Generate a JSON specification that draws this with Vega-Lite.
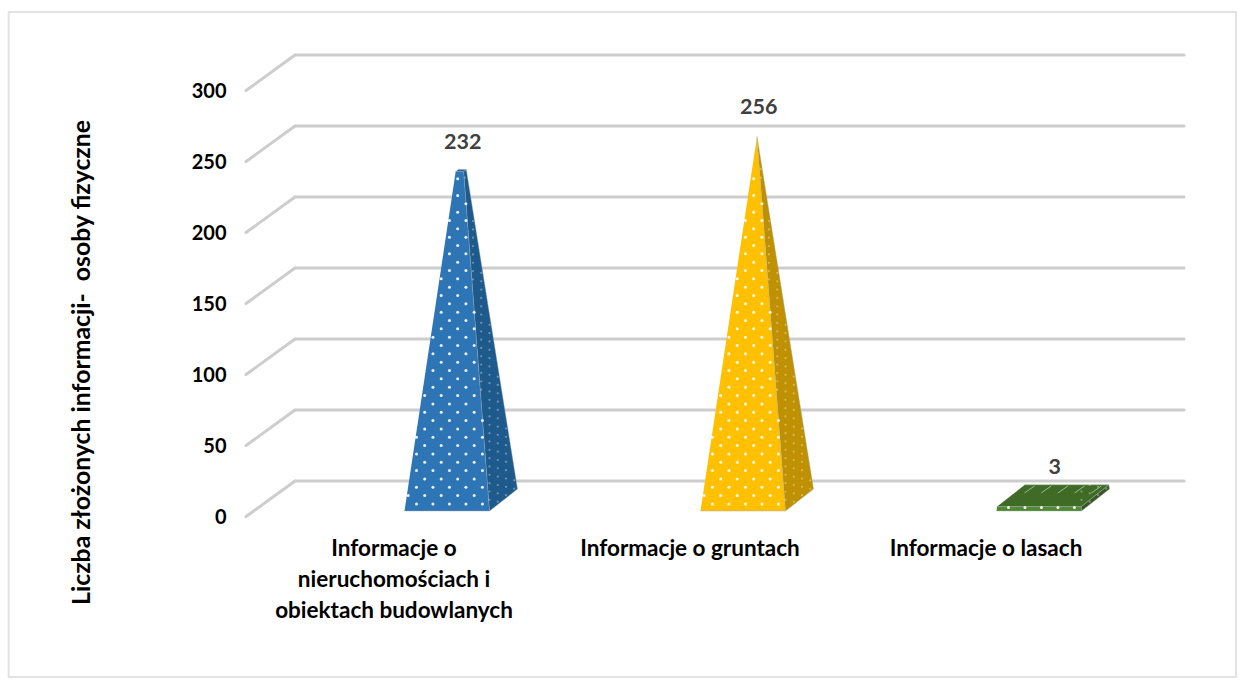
{
"$schema":"https://vega.github.io/schema/vega-lite/v6.json",
"width":1244,"height":687,"padding":0,
"autosize":{"type":"fit","contains":"padding"},
"background":"white",
"config":{"view":{"stroke":null},"font":"Lato"},
"data":{"values":[
{"kategoria":"Informacje o\nnieruchomościach i\nobiektach budowlanych","wartosc":232},
{"kategoria":"Informacje o gruntach","wartosc":256},
{"kategoria":"Informacje o lasach","wartosc":3}
]},
"transform":[
{"window":[{"op":"row_number","as":"nr"}]},
{"calculate":"datum.nr+0.179","as":"cx"},
{"calculate":"datum.cx-0.1436","as":"fl"},
{"calculate":"datum.cx+0.1436","as":"fr"},
{"calculate":"datum.fl+0.0946","as":"bl"},
{"calculate":"datum.fr+0.0946","as":"br"},
{"calculate":"datum.cx+0.0473","as":"ax"},
{"calculate":"datum.wartosc/256","as":"t"},
{"calculate":"datum.fl+datum.t*(datum.ax-datum.fl)","as":"fla"},
{"calculate":"datum.fr+datum.t*(datum.ax-datum.fr)","as":"fra"},
{"calculate":"datum.bl+datum.t*(datum.ax-datum.bl)","as":"bla"},
{"calculate":"datum.br+datum.t*(datum.ax-datum.br)","as":"bra"},
{"calculate":"datum.t*263.75","as":"vf"},
{"calculate":"15.5+datum.t*248.25","as":"vb"}
],
"encoding":{
"x":{"field":"x","type":"quantitative","axis":null,"scale":{"domain":[-0.3311,3.8716],"nice":false,"zero":false}},
"y":{"field":"y","type":"quantitative","scale":{"domain":[-123.94,359.86],"nice":false,"zero":false},
"axis":{"title":"Liczba złożonych informacji-\u00a0\u00a0osoby fizyczne","values":[0,50,100,150,200,250,300],"grid":false,"domain":false,"ticks":false,"offset":-226,"labelPadding":0,"labelOffset":6,"labelFont":"Lato","labelFontSize":20,"labelFontWeight":"bold","labelColor":"#000000","titleFont":"Lato","titleFontSize":24.8,"titleFontWeight":"bold","titleColor":"#000000","titleAngle":-90,"titleX":-144,"titleY":362,"titleAlign":"center","titleBaseline":"middle"}}
},
"layer":[
{"data":{"values":[{"a":1}]},
"transform":[{"calculate":"-0.3017","as":"x"},{"calculate":"3.845","as":"x2"},{"calculate":"351.4","as":"y"},{"calculate":"-116.9","as":"y2"}],
"mark":{"type":"rect","fill":"transparent","stroke":"#e2e2e2","strokeWidth":2},
"encoding":{"x2":{"field":"x2"},"y2":{"field":"y2"}}},
{"data":{"values":[{"w":0},{"w":50},{"w":100},{"w":150},{"w":200},{"w":250},{"w":300}]},
"transform":[{"calculate":"0.5","as":"x"},{"calculate":"0.6655","as":"x2"},{"calculate":"datum.w-3.9","as":"y"},{"calculate":"datum.w+21.1","as":"y2"}],
"mark":{"type":"rule","stroke":"#cdcdcd","strokeWidth":3,"strokeCap":"round"},
"encoding":{"x2":{"field":"x2"},"y2":{"field":"y2"}}},
{"data":{"values":[{"w":0},{"w":50},{"w":100},{"w":150},{"w":200},{"w":250},{"w":300}]},
"transform":[{"calculate":"0.6655","as":"x"},{"calculate":"3.669","as":"x2"},{"calculate":"datum.w+21.1","as":"y"}],
"mark":{"type":"rule","stroke":"#cdcdcd","strokeWidth":3,"strokeCap":"round"},
"encoding":{"x2":{"field":"x2"}}},
{"transform":[
{"calculate":"['b','b','b','b','g','g','g','g','p','p','p','p']","as":"twarz"},
{"calculate":"[datum.fr,datum.br,datum.bra,datum.fra,datum.fla,datum.fra,datum.bra,datum.bla,datum.fl,datum.fr,datum.fra,datum.fla]","as":"xs"},
{"calculate":"[0,15.5,datum.vb,datum.vf,datum.vf,datum.vf,datum.vb,datum.vb,0,0,datum.vf,datum.vf]","as":"ys"},
{"calculate":"[0,1,2,3,4,5,6,7,8,9,10,11]","as":"i"},
{"flatten":["twarz","xs","ys","i"],"as":["twarz","x","y","i"]},
{"calculate":"datum.nr+datum.twarz","as":"kolor"}
],
"mark":{"type":"line","stroke":"#9aa5ad","strokeWidth":0.6,"strokeOpacity":0.7},
"encoding":{
"fill":{"field":"kolor","type":"nominal","legend":null,"scale":{"domain":["1b","1g","1p","2b","2g","2p","3b","3g","3p"],"range":["#1f5a8c","#2a6296","#2e75b6","#bf9000","#d6a200","#ffc000","#385723","#3f6b27","#4f8a30"]}},
"detail":{"field":"kolor"},
"order":{"field":"i","type":"quantitative"}}},
{"transform":[
{"calculate":"sequence(0,46)","as":"k"},{"flatten":["k"]},
{"calculate":"sequence(-1,6)","as":"c"},{"flatten":["c"]},
{"calculate":"(datum.wartosc<10?2.5:5)+datum.k*5.87","as":"y"},
{"calculate":"datum.fl+0.0405+datum.c*0.0557-(datum.k%2)*0.0279","as":"x"},
{"filter":"datum.y<=datum.vf && datum.x>=datum.fl+datum.y/263.75*(datum.ax-datum.fl)+0.002 && datum.x<=datum.fr+datum.y/263.75*(datum.ax-datum.fr)"}
],
"mark":{"type":"circle","size":9,"fill":"#ffffff","opacity":0.9}},
{"transform":[
{"calculate":"sequence(-4,46)","as":"k"},{"flatten":["k"]},
{"calculate":"sequence(-8,5)","as":"c"},{"flatten":["c"]},
{"calculate":"datum.fr+datum.c*0.0279","as":"x"},
{"calculate":"2+datum.k*5.87+datum.c*4.57","as":"y"},
{"filter":"datum.y<=datum.vb && datum.y>=(datum.x-datum.fr)/0.0946*15.5+1.5 && datum.x>=datum.fr+datum.y/263.75*(datum.ax-datum.fr)+0.002 && datum.x<=datum.br+(datum.y-15.5)/248.25*(datum.ax-datum.br)-0.002"}
],
"mark":{"type":"circle","size":5,"fill":"#ffffff","opacity":0.35}},
{"transform":[
{"filter":"datum.wartosc<10"},
{"calculate":"[0,1,2,3,4]","as":"c"},{"flatten":["c"]},
{"calculate":"datum.fl+0.0946+datum.c*0.0564","as":"x"},
{"calculate":"datum.x+0.0338","as":"x2"},
{"calculate":"12.7","as":"y"},
{"calculate":"17.6","as":"y2"}
],
"mark":{"type":"rule","stroke":"#b5cba8","strokeWidth":1,"opacity":0.8},
"encoding":{"x2":{"field":"x2"},"y2":{"field":"y2"}}},
{"transform":[{"calculate":"datum.ax+0.006","as":"x"},{"calculate":"datum.wartosc+27.5","as":"y"}],
"mark":{"type":"text","font":"Lato","fontSize":21.5,"fontWeight":"bold","fill":"#404040","align":"center","baseline":"middle"},
"encoding":{"text":{"field":"wartosc","type":"quantitative"}}},
{"transform":[{"calculate":"datum.nr","as":"x"},{"calculate":"-19","as":"y"}],
"mark":{"type":"text","font":"Lato","fontSize":22.5,"fontWeight":"bold","fill":"#000000","align":"center","baseline":"top","lineBreak":"\n","lineHeight":31},
"encoding":{"text":{"field":"kategoria","type":"nominal"}}}
]
}
